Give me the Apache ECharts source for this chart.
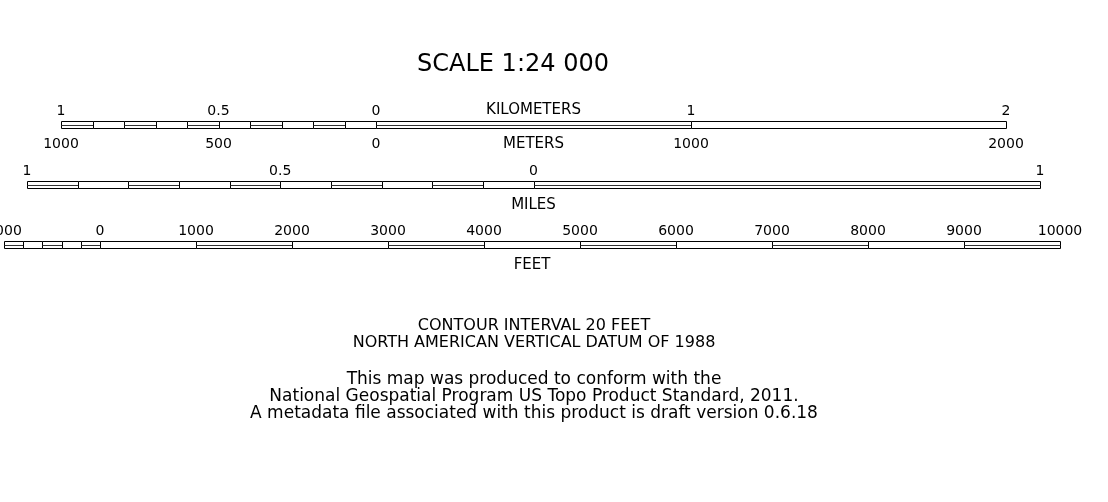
<!DOCTYPE html>
<html>
<head>
<meta charset="utf-8">
<script src="https://cdn.jsdelivr.net/npm/echarts@6/dist/echarts.min.js"></script>
<style>
  html, body { margin: 0; padding: 0; background: #fff; }
  #main { width: 1108px; height: 502px; }
</style>
</head>
<body>
<div id="main"></div>
<script>
var myChart = echarts.init(document.getElementById('main'));

// tick labels for each scale (negative = left of zero)
var kmTicks = [-1, -0.5, 0, 1, 2];
var meterTicks = [-1000, -500, 0, 1000, 2000];
var mileTicks = [-1, -0.5, 0, 1];
var feetTicks = [-1000, 0, 1000, 2000, 3000, 4000, 5000, 6000, 7000, 8000, 9000, 10000];

// segments: [start, end, hasMiddleLine]
var kmSegments = [
    [-1, -0.9, 1], [-0.9, -0.8, 0], [-0.8, -0.7, 1], [-0.7, -0.6, 0], [-0.6, -0.5, 1],
    [-0.5, -0.4, 0], [-0.4, -0.3, 1], [-0.3, -0.2, 0], [-0.2, -0.1, 1], [-0.1, 0, 0],
    [0, 1, 1], [1, 2, 0]
];
var mileSegments = [
    [-1, -0.9, 1], [-0.9, -0.8, 0], [-0.8, -0.7, 1], [-0.7, -0.6, 0], [-0.6, -0.5, 1],
    [-0.5, -0.4, 0], [-0.4, -0.3, 1], [-0.3, -0.2, 0], [-0.2, -0.1, 1], [-0.1, 0, 0],
    [0, 1, 1]
];
var feetSegments = [
    [-1000, -800, 1], [-800, -600, 0], [-600, -400, 1], [-400, -200, 0], [-200, 0, 1],
    [0, 1000, 0], [1000, 2000, 1], [2000, 3000, 0], [3000, 4000, 1], [4000, 5000, 0],
    [5000, 6000, 1], [6000, 7000, 0], [7000, 8000, 1], [8000, 9000, 0], [9000, 10000, 1]
];

var textLines = [
    'CONTOUR INTERVAL 20 FEET',
    'NORTH AMERICAN VERTICAL DATUM OF 1988',
    '',
    'This map was produced to conform with the',
    'National Geospatial Program US Topo Product Standard, 2011.',
    'A metadata file associated with this product is draft version 0.6.18'
];

var FONT = 'DejaVu Sans';

function renderSegment(params, api) {
    var p0 = api.coord([api.value(0), 1]);
    var p1 = api.coord([api.value(1), 0]);
    var x0 = Math.round(p0[0]) + 0.5;
    var x1 = Math.round(p1[0]) + 0.5;
    var y0 = Math.round(p0[1]) + 0.5;
    var y1 = Math.round(p1[1]) + 0.5;
    var ym = Math.round((y0 + y1) / 2 - 0.5) + 0.5;
    var children = [{
        type: 'rect',
        shape: { x: x0, y: y0, width: x1 - x0, height: y1 - y0 },
        style: { fill: '#fff', stroke: '#000', lineWidth: 1 }
    }];
    if (api.value(2)) {
        children.push({
            type: 'line',
            shape: { x1: x0, y1: ym, x2: x1, y2: ym },
            style: { stroke: '#333', lineWidth: 1 }
        });
    }
    return { type: 'group', children: children };
}

function absLabel(v) {
    return String(Math.abs(v));
}

var labelStyle = { color: '#000', fontFamily: FONT, fontSize: 14 };
var nameStyle = { color: '#000', fontFamily: FONT, fontSize: 15 };

function barAxis(grid, pos, min, max, ticks, name, margin, nameGap) {
    return {
        type: 'value',
        gridIndex: grid,
        position: pos,
        min: min,
        max: max,
        axisLine: { show: false },
        axisTick: { show: false },
        splitLine: { show: false },
        axisLabel: ticks ? Object.assign({
            show: true,
            customValues: ticks,
            formatter: absLabel,
            margin: margin,
            showMinLabel: true,
            showMaxLabel: true,
            hideOverlap: false
        }, labelStyle) : { show: false },
        name: name,
        nameLocation: 'middle',
        nameGap: nameGap,
        nameMoveOverlap: false,
        nameTextStyle: nameStyle
    };
}

var graphics = [{
    type: 'text',
    x: 513,
    y: 65,
    style: { text: 'SCALE 1:24 000', font: '24px "' + FONT + '"', fill: '#000', align: 'center', verticalAlign: 'middle' }
}];
var lineY = [326, 343, 360, 380, 397, 414];
var lineSize = [16, 16, 16, 17, 17, 17];
textLines.forEach(function (t, i) {
    if (!t) return;
    graphics.push({
        type: 'text',
        x: 534,
        y: lineY[i],
        style: { text: t, font: lineSize[i] + 'px "' + FONT + '"', fill: '#000', align: 'center', verticalAlign: 'middle' }
    });
});

var option = {
    animation: false,
    grid: [
        { left: 61, right: 102, top: 121, height: 7, outerBoundsMode: 'none' },
        { left: 27, right: 68, top: 181, height: 7, outerBoundsMode: 'none' },
        { left: 4, right: 48, top: 241, height: 7, outerBoundsMode: 'none' }
    ],
    xAxis: [
        barAxis(0, 'top', -1, 2, kmTicks, 'KILOMETERS', 3, 3),
        barAxis(0, 'bottom', -1000, 2000, meterTicks, 'METERS', 9, 9),
        barAxis(1, 'top', -1, 1, mileTicks, '', 3, 3),
        barAxis(1, 'bottom', -1, 1, null, 'MILES', 10, 10),
        barAxis(2, 'top', -1000, 10000, feetTicks, '', 3, 3),
        barAxis(2, 'bottom', -1000, 10000, null, 'FEET', 10, 10)
    ],
    yAxis: [0, 1, 2].map(function (g) {
        return { type: 'value', gridIndex: g, min: 0, max: 1, show: false };
    }),
    graphic: graphics,
    series: [
        { type: 'custom', xAxisIndex: 0, yAxisIndex: 0, renderItem: renderSegment, data: kmSegments, silent: true },
        { type: 'custom', xAxisIndex: 2, yAxisIndex: 1, renderItem: renderSegment, data: mileSegments, silent: true },
        { type: 'custom', xAxisIndex: 4, yAxisIndex: 2, renderItem: renderSegment, data: feetSegments, silent: true }
    ]
};

myChart.setOption(option);
</script>
</body>
</html>
